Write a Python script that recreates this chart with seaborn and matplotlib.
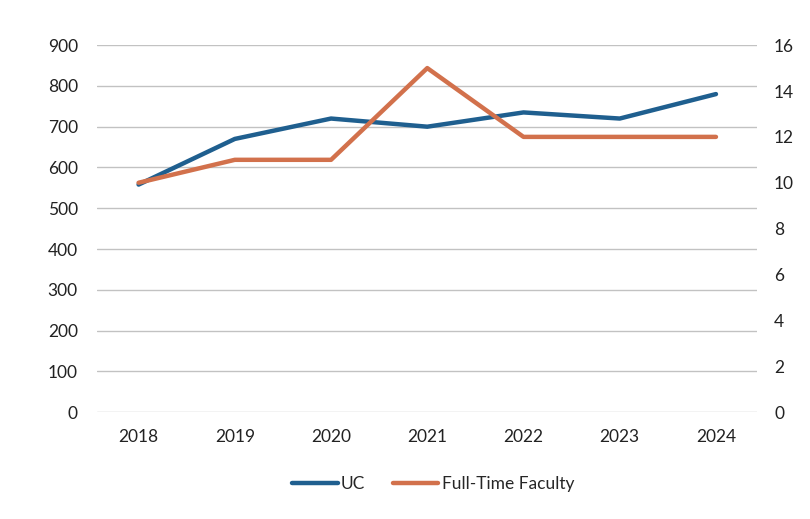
import matplotlib
matplotlib.use("Agg")
import matplotlib.pyplot as plt
from matplotlib.lines import Line2D
import seaborn as sns
import pandas as pd

# ----- Data ------------------------------------------------------------------
years   = [2018, 2019, 2020, 2021, 2022, 2023, 2024]
uc      = [558, 670, 720, 700, 735, 720, 780]
faculty = [10.0, 11.0, 11.0, 15.0, 12.0, 12.0, 12.0]

UC_COLOR  = "#1f5f8f"
FAC_COLOR = "#d2714c"

df = pd.DataFrame({"year": years, "UC": uc, "Full-Time Faculty": faculty})

sns.set_style("white")
plt.rcParams["font.family"] = ["Lato", "DejaVu Sans"]

fig = plt.figure(figsize=(8.1, 5.19), dpi=100)
ax = fig.add_axes([0.12, 0.206, 0.815, 0.707])
ax2 = ax.twinx()

sns.lineplot(data=df, x="year", y="UC", ax=ax, color=UC_COLOR, linewidth=3.2)
sns.lineplot(data=df, x="year", y="Full-Time Faculty", ax=ax2,
             color=FAC_COLOR, linewidth=3.2)

# ----- Axes ------------------------------------------------------------------
ax.set_xlim(years[0] - 0.43, years[-1] + 0.43)
ax.set_ylim(0, 900)
ax.set_yticks(range(0, 901, 100))
ax2.set_ylim(0, 16)
ax2.set_yticks(range(0, 17, 2))
ax.set_xticks(years)
ax.set_xticklabels([str(y) for y in years])

ax.grid(axis="y", color="#c2c2c2", linewidth=1)
ax.grid(axis="x", visible=False)
ax2.grid(False)

for a in (ax, ax2):
    a.set_xlabel("")
    a.set_ylabel("")
    for s in a.spines.values():
        s.set_visible(False)

ax.tick_params(axis="y", length=0, pad=14, labelsize=12.5, colors="#222222")
ax.tick_params(axis="x", length=0, pad=12, labelsize=12.5, colors="#222222")
ax2.tick_params(axis="y", length=0, pad=12, labelsize=12.5, colors="#222222")

# ----- Legend ----------------------------------------------------------------
handles = [Line2D([], [], color=UC_COLOR, linewidth=3.2),
           Line2D([], [], color=FAC_COLOR, linewidth=3.2)]
fig.legend(handles, ["UC", "Full-Time Faculty"], loc="center",
           bbox_to_anchor=(0.535, 0.068), ncol=2, frameon=False,
           fontsize=12.5, handlelength=2.6, handletextpad=0.2,
           columnspacing=1.6)

fig.savefig("out.png", dpi=100)
plt.close(fig)
